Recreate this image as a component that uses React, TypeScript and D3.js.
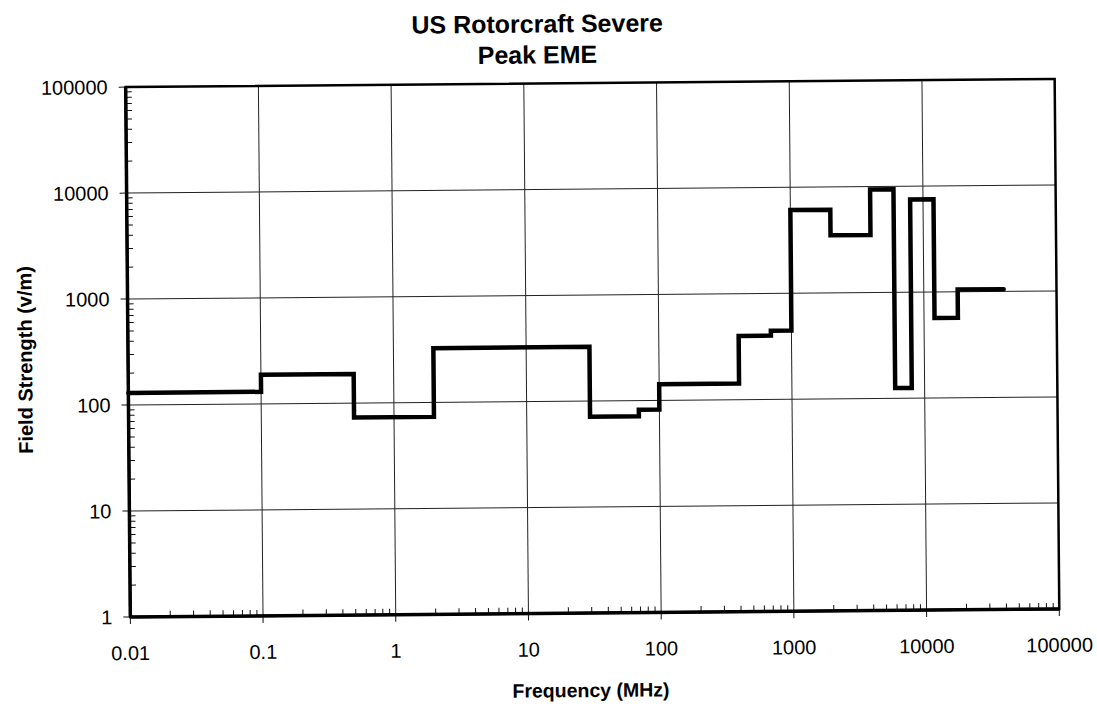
import React, { useRef, useEffect } from 'react';
import * as d3 from 'd3';

// band edges (MHz) and peak field strength (V/m) for each band
const bandStart = [0.01, 0.1, 0.5, 2, 30, 70, 100, 400, 700, 1000, 2000, 4000, 6000, 8000, 12000, 18000];
const bandStop = 40000;
const peakField = [130, 188, 73, 325, 71, 82, 142, 400, 445, 6100, 3500, 9400, 125, 7500, 570, 1050];

const xTicks = [0.01, 0.1, 1, 10, 100, 1000, 10000, 100000];
const xTickLabels = ['0.01', '0.1', '1', '10', '100', '1000', '10000', '100000'];
const yTicks = [1, 10, 100, 1000, 10000, 100000];
const yTickLabels = ['1', '10', '100', '1000', '10000', '100000'];

const titleLines = ['US Rotorcraft Severe', 'Peak EME'];
const xTitle = 'Frequency (MHz)';
const yTitle = 'Field Strength (v/m)';

function App() {
    const ref = useRef(null);

    useEffect(() => {
        const W = 1097, H = 706;
        const margin = {top: 83, right: 40, bottom: 93, left: 128};
        const width = W - margin.left - margin.right;
        const height = H - margin.top - margin.bottom;
        const font = "'Liberation Sans', Arial, Helvetica, sans-serif";

        const root = d3.select(ref.current);
        root.selectAll('*').remove();

        // the scanned page sits a little crooked
        const page = root.append('g').attr('transform', 'rotate(-0.5, 593, 350)');

        const svg = page.append('g')
            .attr('transform', 'translate(' + margin.left + ',' + margin.top + ')');

        const x = d3.scaleLog().domain([0.01, 100000]).range([0, width]);
        const y = d3.scaleLog().domain([1, 100000]).range([height, 0]);

        // grid
        svg.append('g').selectAll('line')
            .data(xTicks.slice(1, -1))
            .enter().append('line')
            .attr('x1', d => x(d)).attr('x2', d => x(d))
            .attr('y1', 0).attr('y2', height)
            .attr('stroke', '#222').attr('stroke-width', 1);

        svg.append('g').selectAll('line')
            .data(yTicks.slice(1, -1))
            .enter().append('line')
            .attr('x1', 0).attr('x2', width)
            .attr('y1', d => y(d)).attr('y2', d => y(d))
            .attr('stroke', '#222').attr('stroke-width', 1);

        // minor ticks, pointing inside
        const minorX = [];
        for (let e = -2; e < 5; e++) for (let m = 2; m < 10; m++) minorX.push(m * Math.pow(10, e));
        const minorY = [];
        for (let e = 0; e < 5; e++) for (let m = 2; m < 10; m++) minorY.push(m * Math.pow(10, e));

        svg.append('g').selectAll('line')
            .data(minorX)
            .enter().append('line')
            .attr('x1', d => x(d)).attr('x2', d => x(d))
            .attr('y1', height).attr('y2', height - 6)
            .attr('stroke', '#111').attr('stroke-width', 1);

        svg.append('g').selectAll('line')
            .data(minorY)
            .enter().append('line')
            .attr('x1', 0).attr('x2', 6)
            .attr('y1', d => y(d)).attr('y2', d => y(d))
            .attr('stroke', '#111').attr('stroke-width', 1);

        // major ticks, pointing outside
        svg.append('g').selectAll('line')
            .data(xTicks)
            .enter().append('line')
            .attr('x1', d => x(d)).attr('x2', d => x(d))
            .attr('y1', height).attr('y2', height + 7)
            .attr('stroke', '#111').attr('stroke-width', 1);

        svg.append('g').selectAll('line')
            .data(yTicks)
            .enter().append('line')
            .attr('x1', -7).attr('x2', 0)
            .attr('y1', d => y(d)).attr('y2', d => y(d))
            .attr('stroke', '#111').attr('stroke-width', 1);

        // frame
        svg.append('rect')
            .attr('x', 0).attr('y', 0)
            .attr('width', width).attr('height', height)
            .attr('fill', 'none').attr('stroke', '#000').attr('stroke-width', 2.5);
        svg.append('line')
            .attr('x1', 0).attr('x2', 0).attr('y1', 0).attr('y2', height)
            .attr('stroke', '#000').attr('stroke-width', 3.5);
        svg.append('line')
            .attr('x1', 0).attr('x2', width).attr('y1', height).attr('y2', height)
            .attr('stroke', '#000').attr('stroke-width', 3.5);

        // step trace
        const pts = bandStart.map((f, i) => [f, peakField[i]]);
        pts.push([bandStop, peakField[peakField.length - 1]]);
        const line = d3.line()
            .x(d => x(d[0]))
            .y(d => y(d[1]))
            .curve(d3.curveStepAfter);
        svg.append('path')
            .datum(pts)
            .attr('d', line)
            .attr('fill', 'none')
            .attr('stroke', '#000')
            .attr('stroke-width', 4.5)
            .attr('stroke-linejoin', 'miter')
            .attr('stroke-linecap', 'round');

        // tick labels
        svg.append('g').selectAll('text')
            .data(xTicks)
            .enter().append('text')
            .attr('x', d => x(d))
            .attr('y', height + 43)
            .attr('text-anchor', 'middle')
            .style('font-family', font)
            .style('font-size', '20px')
            .text((d, i) => xTickLabels[i]);

        svg.append('g').selectAll('text')
            .data(yTicks)
            .enter().append('text')
            .attr('x', -18)
            .attr('y', d => y(d))
            .attr('dy', '0.35em')
            .attr('text-anchor', 'end')
            .style('font-family', font)
            .style('font-size', '20px')
            .text((d, i) => yTickLabels[i]);

        // titles
        page.append('g').selectAll('text')
            .data(titleLines)
            .enter().append('text')
            .attr('x', 540)
            .attr('y', (d, i) => 32 + i * 31)
            .attr('text-anchor', 'middle')
            .style('font-family', font)
            .style('font-size', '25px')
            .style('font-weight', 'bold')
            .text(d => d);

        page.append('text')
            .attr('x', 588)
            .attr('y', 697)
            .attr('text-anchor', 'middle')
            .style('font-family', font)
            .style('font-size', '19.5px')
            .style('font-weight', 'bold')
            .text(xTitle);

        page.append('text')
            .attr('transform', 'translate(32,355) rotate(-90)')
            .attr('text-anchor', 'middle')
            .style('font-family', font)
            .style('font-size', '20px')
            .style('font-weight', 'bold')
            .text(yTitle);
    }, []);

    return (
        <svg ref={ref} width="1097" height="706"
             style={{position: 'absolute', left: 0, top: 0, background: '#fff'}} />
    );
}

export default App;
